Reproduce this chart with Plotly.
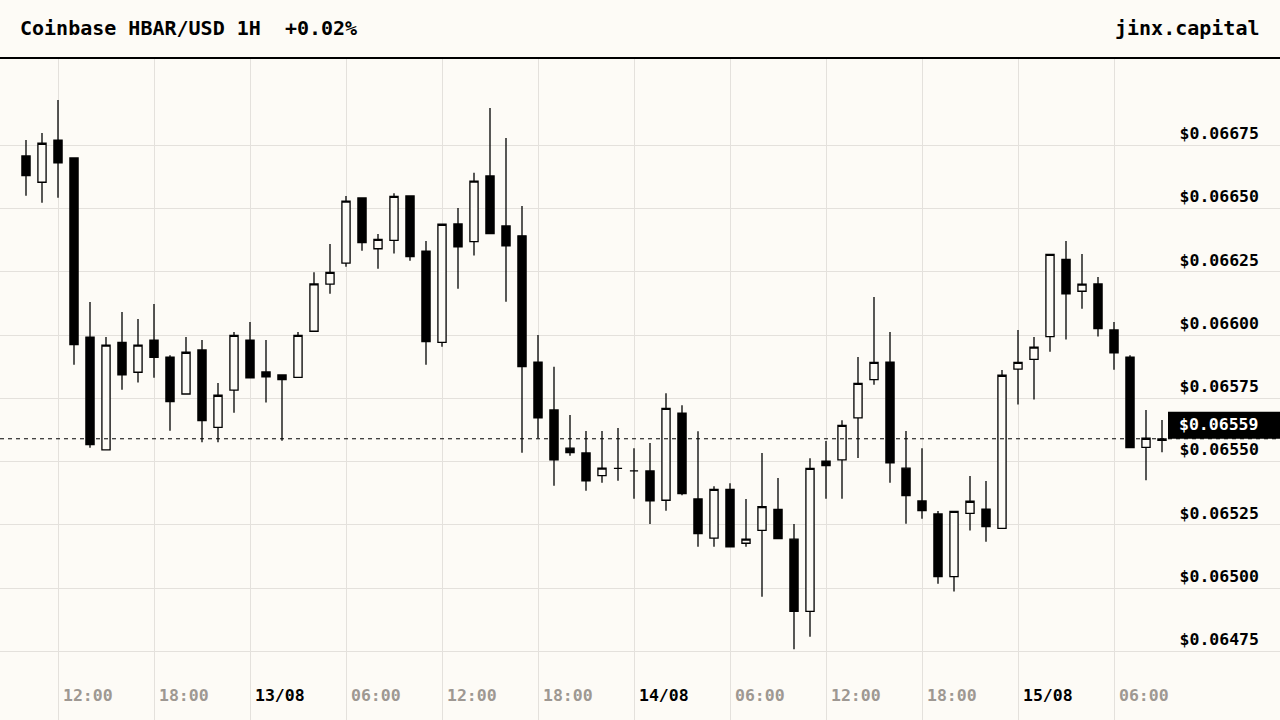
import plotly.graph_objects as go
import pandas as pd

# ---------------- data ----------------
start_time = "2024-08-12 10:00"
n_candles = 72
times = pd.date_range(start_time, periods=n_candles, freq="h")

open_ = [0.066708, 0.066604, 0.066770, 0.066700, 0.065992, 0.065546, 0.065971, 0.065853, 0.065980, 0.065913,
         0.065767, 0.065941, 0.065635, 0.065782, 0.065980, 0.065854, 0.065842, 0.065833, 0.066015, 0.066201,
         0.066284, 0.066542, 0.066341, 0.066374, 0.066550, 0.066332, 0.065971, 0.066439, 0.066369, 0.066629,
         0.066431, 0.066392, 0.065893, 0.065704, 0.065553, 0.065534, 0.065444, 0.065473, 0.065463, 0.065463,
         0.065347, 0.065691, 0.065352, 0.065197, 0.065390, 0.065177, 0.065228, 0.065311, 0.065193, 0.064908,
         0.065502, 0.065507, 0.065673, 0.065824, 0.065893, 0.065474, 0.065344, 0.065293, 0.065045, 0.065295,
         0.065312, 0.065236, 0.065865, 0.065904, 0.065994, 0.066299, 0.066173, 0.066202, 0.066020, 0.065913,
         0.065556, 0.065584]

high = [0.066771, 0.066799, 0.066929, 0.066700, 0.066131, 0.065992, 0.066091, 0.066063, 0.066123, 0.065920,
        0.065992, 0.065980, 0.065810, 0.066012, 0.066052, 0.065980, 0.065842, 0.066012, 0.066248, 0.066360,
        0.066550, 0.066542, 0.066399, 0.066560, 0.066550, 0.066372, 0.066438, 0.066502, 0.066641, 0.066897,
        0.066779, 0.066510, 0.066000, 0.065875, 0.065684, 0.065621, 0.065621, 0.065633, 0.065553, 0.065573,
        0.065770, 0.065723, 0.065620, 0.065402, 0.065414, 0.065352, 0.065534, 0.065435, 0.065253, 0.065513,
        0.065581, 0.065663, 0.065913, 0.066150, 0.066012, 0.065621, 0.065553, 0.065305, 0.065303, 0.065443,
        0.065423, 0.065862, 0.066020, 0.065992, 0.066319, 0.066372, 0.066320, 0.066229, 0.066052, 0.065920,
        0.065704, 0.065664]

low = [0.066551, 0.066523, 0.066543, 0.065883, 0.065555, 0.065546, 0.065784, 0.065812, 0.065831, 0.065622,
       0.065767, 0.065576, 0.065576, 0.065693, 0.065831, 0.065733, 0.065582, 0.065833, 0.066015, 0.066163,
       0.066270, 0.066333, 0.066262, 0.066322, 0.066294, 0.065883, 0.065954, 0.066183, 0.066314, 0.066401,
       0.066132, 0.065535, 0.065592, 0.065404, 0.065523, 0.065385, 0.065416, 0.065424, 0.065353, 0.065253,
       0.065306, 0.065367, 0.065163, 0.065163, 0.065163, 0.065163, 0.064966, 0.065195, 0.064758, 0.064808,
       0.065353, 0.065353, 0.065514, 0.065804, 0.065416, 0.065254, 0.065274, 0.065017, 0.064986, 0.065227,
       0.065183, 0.065236, 0.065725, 0.065745, 0.065934, 0.065982, 0.066104, 0.065994, 0.065863, 0.065555,
       0.065426, 0.065537]

close = [0.066630, 0.066758, 0.066681, 0.065962, 0.065567, 0.065960, 0.065843, 0.065960, 0.065912, 0.065737,
         0.065932, 0.065662, 0.065762, 0.065999, 0.065831, 0.065835, 0.065824, 0.065999, 0.066202, 0.066248,
         0.066529, 0.066365, 0.066378, 0.066548, 0.066310, 0.065974, 0.066438, 0.066349, 0.066608, 0.066401,
         0.066353, 0.065875, 0.065673, 0.065507, 0.065535, 0.065424, 0.065474, 0.065473, 0.065463, 0.065345,
         0.065710, 0.065373, 0.065215, 0.065390, 0.065163, 0.065193, 0.065322, 0.065195, 0.064908, 0.065473,
         0.065484, 0.065643, 0.065809, 0.065892, 0.065495, 0.065365, 0.065306, 0.065045, 0.065303, 0.065343,
         0.065243, 0.065841, 0.065892, 0.065952, 0.066319, 0.066163, 0.066201, 0.066025, 0.065930, 0.065555,
         0.065592, 0.065590]

tick_times = ["2024-08-12 12:00", "2024-08-12 18:00", "2024-08-13 00:00", "2024-08-13 06:00",
              "2024-08-13 12:00", "2024-08-13 18:00", "2024-08-14 00:00", "2024-08-14 06:00",
              "2024-08-14 12:00", "2024-08-14 18:00", "2024-08-15 00:00", "2024-08-15 06:00"]
tick_labels = ["12:00", "18:00", "13/08", "06:00", "12:00", "18:00", "14/08", "06:00",
               "12:00", "18:00", "15/08", "06:00"]
tick_is_date = [False, False, True, False, False, False, True, False, False, False, True, False]

price_ticks = [0.06475, 0.06500, 0.06525, 0.06550, 0.06575, 0.06600, 0.06625, 0.06650, 0.06675]
price_labels = ["$0.06475", "$0.06500", "$0.06525", "$0.06550", "$0.06575",
                "$0.06600", "$0.06625", "$0.06650", "$0.06675"]

title_text = "Coinbase HBAR/USD 1H\u00a0\u00a0+0.02%"
brand_text = "jinx.capital"
last_price_label = "$0.06559"

# ---------------- style ----------------
BG = "#fdfbf6"
GRID = "#e4e1dc"
GREY = "#9e9892"
FONT = "DejaVu Sans Mono"

x_range = ["2024-08-12 08:22:30", "2024-08-15 16:22:30"]
y_range = [0.0644785, 0.067095]

ticktext = [f"<b>{t}</b>" if d else f"<span style='color:{GREY}'><b>{t}</b></span>"
            for t, d in zip(tick_labels, tick_is_date)]

fig = go.Figure()
fig.add_trace(go.Candlestick(
    x=times, open=open_, high=high, low=low, close=close,
    increasing=dict(line=dict(color="black", width=1.3), fillcolor=BG),
    decreasing=dict(line=dict(color="black", width=1.3), fillcolor="black"),
    whiskerwidth=0,
    hoverinfo="skip",
    showlegend=False,
))

last_close = close[-1]

fig.update_layout(
    width=1280, height=720,
    margin=dict(l=0, r=0, t=58, b=0),
    paper_bgcolor=BG, plot_bgcolor=BG,
    font=dict(family=FONT, size=16.5, color="black"),
    showlegend=False,
    boxgap=0.27,
    xaxis=dict(
        type="date", range=x_range, rangeslider=dict(visible=False),
        tickmode="array", tickvals=tick_times, ticktext=ticktext,
        ticklabelposition="inside right", ticks="",
        tickfont=dict(family=FONT, size=16.5, color="black"),
        showgrid=True, gridcolor=GRID, gridwidth=1,
        zeroline=False, showline=False, fixedrange=True,
        ticklabelstandoff=10, ticklabelshift=5,
    ),
    yaxis=dict(
        side="right", range=y_range,
        tickmode="array", tickvals=price_ticks, ticktext=[f"<b>{p}</b>" for p in price_labels],
        ticklabelposition="inside", ticks="",
        tickfont=dict(family=FONT, size=16.5, color="black"),
        ticklabelshift=-12, ticklabelstandoff=18,
        showgrid=True, gridcolor=GRID, gridwidth=1,
        zeroline=False, showline=False, fixedrange=True,
    ),
    shapes=[
        dict(type="line", xref="paper", yref="paper", x0=0, x1=1, y0=1, y1=1,
             line=dict(color="black", width=2.2), layer="above"),
        dict(type="line", xref="paper", yref="y", x0=0, x1=1, y0=last_close, y1=last_close,
             line=dict(color="black", width=1, dash="4px,4px"), layer="above"),
        dict(type="rect", xref="paper", yref="y", x0=0.9125, x1=1,
             ysizemode="pixel", yanchor=last_close, y0=0, y1=27,
             fillcolor="black", line=dict(width=0), layer="above"),
    ],
    annotations=[
        dict(text=f"<b>{title_text}</b>", xref="paper", yref="paper", x=0, y=1,
             xanchor="left", yanchor="middle", xshift=18, yshift=30, showarrow=False,
             font=dict(family=FONT, size=20, color="black")),
        dict(text=f"<b>{brand_text}</b>", xref="paper", yref="paper", x=1, y=1,
             xanchor="right", yanchor="middle", xshift=-18, yshift=30, showarrow=False,
             font=dict(family=FONT, size=20, color="black")),
        dict(text=f"<b>{last_price_label}</b>", xref="paper", yref="y", x=1, y=last_close,
             xanchor="right", yanchor="middle", xshift=-20, yshift=14, showarrow=False,
             font=dict(family=FONT, size=16.5, color="white")),
    ],
)

fig.write_html(
    "out.html",
    config={"displayModeBar": False, "staticPlot": True},
    post_script="document.body.style.margin='0';document.body.style.background='" + BG + "';",
)
